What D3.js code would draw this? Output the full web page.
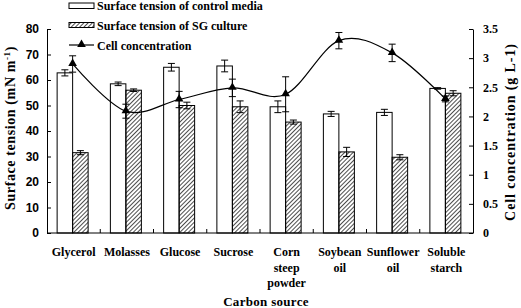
<!DOCTYPE html>
<meta charset="utf-8">
<style type="text/css">
body { margin: 0; background: #fff; }
svg text { font-family: "Liberation Serif", "Times New Roman", serif; font-weight: bold; fill: #000; }
.bar { stroke: #000; stroke-width: 1; }
.err { stroke: #000; stroke-width: 1; fill: none; }
.line { fill: none; stroke: #000; stroke-width: 1.2; }
.axis path, .axis line { stroke: #000; stroke-width: 1; }
</style>
<body>
<div id="chart"></div>
<script src="https://d3js.org/d3.v7.min.js"></script>
<script type="text/javascript">
// carbon sources (label lines)
var categories = [["Glycerol"], ["Molasses"], ["Glucose"], ["Sucrose"], ["Corn", "steep", "powder"],
                  ["Soybean", "oil"], ["Sunflower", "oil"], ["Soluble", "starch"]];
// surface tension, mN m-1
var controlMedia = [62.8, 58.5, 65.0, 65.5, 49.5, 46.7, 47.3, 56.7];
var controlErr   = [1.2, 0.7, 1.5, 2.3, 2.3, 1.0, 1.2, 0.3];
var sgCulture    = [31.5, 56.0, 50.0, 49.5, 43.5, 31.8, 29.7, 54.8];
var sgErr        = [0.8, 0.5, 1.3, 2.3, 0.8, 1.8, 1.0, 1.0];
// cell concentration, g L-1
var cellConc = [2.90, 2.09, 2.29, 2.49, 2.38, 3.30, 3.09, 2.30];
var cellErr  = [0.14, 0.12, 0.14, 0.15, 0.30, 0.14, 0.15, 0.05];
var leftTicks  = [0, 10, 20, 30, 40, 50, 60, 70, 80];
var rightTicks = [0, 0.5, 1, 1.5, 2, 2.5, 3, 3.5];

var W = 521, H = 308;
var x0 = 47, x1 = 473, y0 = 233, y1 = 29;
var idx = d3.range(categories.length);

var svg = d3.select("#chart").append("svg")
    .attr("width", W).attr("height", H);

var defs = svg.append("defs");
defs.append("pattern")
    .attr("id", "hatch")
    .attr("patternUnits", "userSpaceOnUse")
    .attr("width", 3).attr("height", 3)
    .attr("patternTransform", "rotate(45)")
  .append("line")
    .attr("x1", 0).attr("y1", 0).attr("x2", 0).attr("y2", 3)
    .attr("stroke", "#000").attr("stroke-width", 1.4);

var xScale = d3.scaleBand().domain(idx).range([x0, x1]);
var yLeft = d3.scaleLinear().domain([0, 80]).range([y0, y1]);
var yRight = d3.scaleLinear().domain([0, 3.5]).range([y0, y1]);
var bw = 15.5;
var cx = function(i) { return xScale(i) + xScale.bandwidth() / 2 - 1; };

// bars
svg.selectAll(".ctrl").data(idx).enter().append("rect")
    .attr("class", "bar ctrl")
    .attr("x", function(i) { return cx(i) - bw; })
    .attr("y", function(i) { return yLeft(controlMedia[i]); })
    .attr("width", bw)
    .attr("height", function(i) { return y0 - yLeft(controlMedia[i]); })
    .attr("fill", "#fff");

svg.selectAll(".sg").data(idx).enter().append("rect")
    .attr("class", "bar sg")
    .attr("x", function(i) { return cx(i); })
    .attr("y", function(i) { return yLeft(sgCulture[i]); })
    .attr("width", bw)
    .attr("height", function(i) { return y0 - yLeft(sgCulture[i]); })
    .attr("fill", "url(#hatch)");

function errorBar(xc, ylo, yhi, cap) {
    var p = d3.path();
    p.moveTo(xc, ylo); p.lineTo(xc, yhi);
    p.moveTo(xc - cap, ylo); p.lineTo(xc + cap, ylo);
    p.moveTo(xc - cap, yhi); p.lineTo(xc + cap, yhi);
    svg.append("path").attr("class", "err").attr("d", p.toString());
}
idx.forEach(function(i) {
    var a = cx(i) - bw / 2, b = cx(i) + bw / 2;
    errorBar(a, yLeft(controlMedia[i] - controlErr[i]), yLeft(controlMedia[i] + controlErr[i]), 3.5);
    errorBar(b, yLeft(sgCulture[i] - sgErr[i]), yLeft(sgCulture[i] + sgErr[i]), 3.5);
});

// cell concentration
var line = d3.line()
    .x(function(i) { return cx(i); })
    .y(function(i) { return yRight(cellConc[i]); })
    .curve(d3.curveCardinal.tension(0));
svg.append("path").datum(idx).attr("class", "line").attr("d", line);

idx.forEach(function(i) {
    errorBar(cx(i), yRight(cellConc[i] - cellErr[i]), yRight(cellConc[i] + cellErr[i]), 3.5);
});
var tri = d3.symbol().type(d3.symbolTriangle).size(32);
svg.selectAll(".tri").data(idx).enter().append("path")
    .attr("d", tri)
    .attr("transform", function(i) { return "translate(" + cx(i) + "," + (yRight(cellConc[i]) - 0.5) + ")"; })
    .attr("fill", "#000");

// axes
svg.append("g").attr("class", "axis")
    .attr("transform", "translate(" + x0 + ",0)")
    .call(d3.axisLeft(yLeft).tickValues(leftTicks).tickSizeInner(-4).tickSizeOuter(0).tickPadding(8))
    .selectAll("text").style("font-size", "12px").style("font-family", "\"Liberation Sans\", Arial, sans-serif");

svg.append("g").attr("class", "axis")
    .attr("transform", "translate(" + x1 + ",0)")
    .call(d3.axisRight(yRight).tickValues(rightTicks).tickFormat(d3.format("")).tickSizeInner(-4).tickSizeOuter(0).tickPadding(10))
    .selectAll("text").style("font-size", "12px");

svg.append("line").attr("x1", x0).attr("x2", x1).attr("y1", y0).attr("y2", y0)
    .attr("stroke", "#000");
svg.selectAll(".xtick").data(d3.range(1, categories.length)).enter().append("line")
    .attr("x1", function(i) { return xScale(i); })
    .attr("x2", function(i) { return xScale(i); })
    .attr("y1", y0).attr("y2", y0 - 4)
    .attr("stroke", "#000");

// category labels
var labs = svg.selectAll(".cat").data(idx).enter().append("text")
    .attr("text-anchor", "middle")
    .style("font-size", "12px");
labs.selectAll("tspan").data(function(i) { return categories[i].map(function(s) { return { s: s, i: i }; }); })
    .enter().append("tspan")
    .attr("x", function(d) { return xScale(d.i) + xScale.bandwidth() / 2; })
    .attr("y", function(d, j) { return 256 + j * 15.7; })
    .text(function(d) { return d.s; });

// axis titles
svg.append("text").attr("text-anchor", "middle")
    .attr("x", 266).attr("y", 305.5)
    .style("font-size", "13px").style("letter-spacing", "0.3px").text("Carbon source");

var lt = svg.append("text").attr("text-anchor", "middle")
    .attr("transform", "translate(15,128) rotate(-90)")
    .style("font-size", "14px").style("letter-spacing", "0.6px");
lt.append("tspan").text("Surface tension (mN m");
lt.append("tspan").attr("dy", -5).style("font-size", "9px").text("-1");
lt.append("tspan").attr("dy", 5).text(")");

svg.append("text").attr("text-anchor", "middle")
    .attr("transform", "translate(515,132) rotate(-90)")
    .style("font-size", "14px").style("letter-spacing", "0.9px").text("Cell concentration (g L-1)");

// legend
var lg = svg.append("g");
lg.append("rect").attr("x", 69).attr("y", 3).attr("width", 25).attr("height", 5.5)
    .attr("fill", "#fff").attr("stroke", "#000");
lg.append("text").attr("x", 97).attr("y", 10).style("font-size", "12px").text("Surface tension of control media");
lg.append("rect").attr("x", 69).attr("y", 22.5).attr("width", 25).attr("height", 5)
    .attr("fill", "url(#hatch)").attr("stroke", "#000");
lg.append("text").attr("x", 97).attr("y", 30).style("font-size", "12px").text("Surface tension of SG culture");
lg.append("line").attr("x1", 69).attr("x2", 94).attr("y1", 45).attr("y2", 45)
    .attr("stroke", "#000").attr("stroke-width", 1.2);
lg.append("path").attr("d", tri).attr("transform", "translate(81.5,44.5)").attr("fill", "#000");
lg.append("text").attr("x", 97).attr("y", 49.5).style("font-size", "12px").text("Cell concentration");
</script>
</body>
